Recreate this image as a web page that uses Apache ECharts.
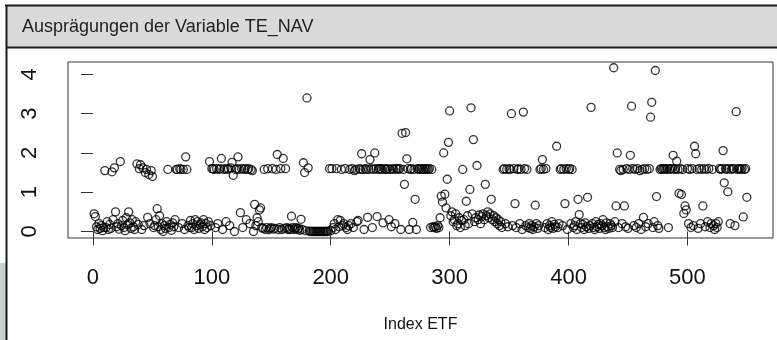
<!DOCTYPE html>
<html>
<head>
<meta charset="utf-8">
<script src="https://cdn.jsdelivr.net/npm/echarts@6/dist/echarts.min.js"></script>
<style>
  html, body { margin: 0; padding: 0; background: #fff; }
  #chart { width: 777px; height: 340px; }
</style>
</head>
<body>
<div id="chart"></div>
<script>
// Ausprägungen der Variable TE_NAV, ein Wert je ETF (Index 1..550)
var titleText = 'Ausprägungen der Variable TE_NAV';
var xName = 'Index ETF';
var xTicks = [0, 100, 200, 300, 400, 500];
var yTicks = [0, 1, 2, 3, 4];

var teNav = [
  0.45, 0.38, 0.12, 0.05, 0.2, 0.08, 0.15, 0.02, 0.1, 1.55,
  0.1, 0.25, 0.05, 0.18, 0.08, 1.52, 0.3, 1.62, 0.5, 0.12,
  0.2, 0.06, 1.78, 0.15, 0.28, 0.1, 0.02, 0.35, 0.18, 0.5,
  0.22, 0.08, 0.3, 0.12, 0.05, 0.25, 1.72, 0.18, 1.6, 1.7,
  0.05, 1.62, 0.15, 1.5, 1.58, 0.36, 1.45, 0.2, 1.55, 1.4,
  0.1, 0.15, 0.3, 0.58, 0.12, 0.4, 0.05, 0.2, 0.0, 0.15,
  0.08, 0.25, 1.58, 0.1, 0.18, 0.03, 0.22, 0.12, 0.3, 1.58,
  1.58, 0.1, 1.6, 1.58, 0.2, 1.58, 0.05, 1.9, 1.58, 0.15,
  0.1, 0.28, 0.1, 0.2, 0.05, 0.3, 0.15, 0.25, 0.08, 0.18,
  0.22, 0.12, 0.3, 0.05, 0.2, 0.1, 0.25, 1.78, 0.15, 1.6,
  1.6, 1.58, 0.1, 1.6, 0.2, 1.58, 1.6, 1.86, 0.05, 1.58,
  1.6, 0.25, 1.58, 1.6, 0.15, 1.62, 1.76, 1.43, 0.0, 1.58,
  1.6, 1.9, 1.58, 0.48, 1.6, 0.1, 1.58, 1.6, 0.3, 1.58,
  1.6, 0.2, 1.58, 1.55, 0.0, 0.69, 0.15, 0.35, 0.25, 0.55,
  0.6, 0.1, 0.08, 1.58, 0.05, 0.1, 1.6, 0.05, 0.08, 0.1,
  1.6, 0.06, 0.08, 1.58, 1.96, 0.05, 0.1, 1.6, 0.05, 1.86,
  0.08, 1.6, 0.1, 0.05, 0.08, 0.05, 0.39, 0.1, 0.05, 0.08,
  0.1, 0.05, 0.08, 0.03, 0.31, 0.05, 1.75, 1.5, 0.02, 3.4,
  1.62, 0.01, 0, 0, 0, 0, 0, 0, 0, 0,
  0, 0, 0, 0, 0, 0, 0, 0.01, 1.6, 0.02,
  1.6, 0.1, 0.2, 0.05, 1.6, 0.3, 0.12, 0.28, 1.58, 0.15,
  0.2, 1.6, 0.1, 0.05, 0.15, 1.58, 0.2, 1.6, 0.1, 1.55,
  1.58, 0.25, 0.28, 1.6, 1.58, 1.98, 1.58, 0.05, 1.6, 1.58,
  0.36, 1.58, 1.83, 1.6, 0.1, 1.58, 2.0, 1.6, 0.38, 1.58,
  1.6, 1.6, 1.58, 0.22, 1.6, 1.58, 1.58, 1.6, 0.3, 1.58,
  0.12, 1.6, 1.58, 0.2, 1.6, 1.6, 1.58, 1.6, 0.05, 2.5,
  1.58, 1.2, 2.52, 1.85, 1.6, 0.05, 1.58, 1.6, 0.23, 1.58,
  0.82, 0.05, 1.6, 1.58, 1.6, 1.58, 1.6, 1.58, 1.6, 1.58,
  1.6, 1.58, 1.6, 0.1, 1.58, 0.12, 0.1, 0.12, 0.08, 0.15,
  0.1, 0.35, 0.9, 0.75, 2.0, 0.95, 0.6, 1.33, 2.27, 3.07,
  0.4, 0.5, 0.25, 0.3, 0.45, 0.15, 0.2, 0.35, 0.1, 0.28,
  1.58, 0.3, 0.15, 0.77, 0.4, 0.2, 1.07, 3.15, 0.45, 2.34,
  0.25, 0.35, 1.68, 0.3, 0.42, 0.2, 0.38, 0.45, 0.3, 1.2,
  0.4, 0.5, 0.35, 0.45, 0.82, 0.3, 0.4, 0.25, 0.35, 0.2,
  0.3, 0.15, 0.25, 0.1, 1.58, 1.6, 0.2, 1.58, 0.12, 1.6,
  1.58, 3.0, 0.15, 1.6, 0.71, 0.1, 1.58, 1.6, 0.2, 1.58,
  0.05, 3.04, 1.6, 0.15, 1.58, 0.1, 0.2, 0.08, 0.15, 0.05,
  0.12, 0.67, 0.2, 0.08, 0.15, 1.58, 1.6, 1.83, 1.58, 0.1,
  1.6, 0.2, 0.05, 0.15, 0.1, 0.25, 0.08, 0.18, 0.12, 2.17,
  0.1, 0.2, 1.58, 1.6, 0.15, 1.58, 0.71, 1.6, 0.05, 1.58,
  1.6, 0.2, 1.58, 0.1, 0.15, 0.25, 0.05, 0.82, 0.43, 0.2,
  0.1, 0.18, 0.05, 0.22, 0.12, 0.87, 0.08, 0.15, 3.16, 0.2,
  0.1, 0.05, 0.25, 0.12, 0.18, 0.08, 0.2, 0.15, 0.3, 0.1,
  0.05, 0.22, 0.12, 0.08, 0.2, 0.15, 0.1, 4.17, 0.25, 0.65,
  2.0, 0.1, 1.58, 1.55, 0.2, 1.58, 0.65, 0.12, 1.6, 0.08,
  1.58, 1.94, 3.19, 1.6, 0.15, 1.58, 0.1, 1.6, 0.2, 1.55,
  0.05, 1.58, 0.36, 1.6, 0.12, 1.58, 0.2, 1.6, 2.91, 3.29,
  0.1, 0.25, 4.1, 0.89, 0.15, 0.08, 1.58, 1.6, 1.58, 1.6,
  1.6, 1.58, 1.6, 0.1, 1.58, 1.6, 1.6, 1.94, 1.58, 1.6,
  1.79, 1.58, 0.97, 1.6, 0.94, 1.58, 0.46, 0.65, 0.55, 1.6,
  0.2, 1.58, 0.1, 1.6, 0.15, 2.17, 1.98, 1.58, 0.08, 1.6,
  0.2, 1.58, 0.65, 1.6, 0.12, 1.58, 0.25, 1.6, 0.1, 0.2,
  1.58, 0.15, 0.05, 0.2, 0.1, 0.25, 1.6, 1.58, 1.6, 2.06,
  1.24, 1.6, 1.58, 1.01, 1.6, 0.2, 1.58, 1.6, 1.6, 0.15,
  3.05, 1.58, 1.6, 1.6, 1.58, 1.6, 0.37, 1.58, 1.6, 0.87
];

var points = [];
for (var i = 0; i < teNav.length; i++) {
  points.push([i + 1, teNav[i]]);
}

var rFont = '"Liberation Sans", Arial, sans-serif';

var chart = echarts.init(document.getElementById('chart'), null, {renderer: 'canvas'});
var option = {
  backgroundColor: '#fff',
  animation: false,
  graphic: [
    // Rahmen und Titelleiste
    {type: 'rect', shape: {x: 0, y: 263, width: 6, height: 80}, style: {fill: '#c7d0d1'}, silent: true},
    {type: 'rect', shape: {x: 7, y: 6, width: 780, height: 41}, style: {fill: '#dadada'}, silent: true},
    {type: 'line', shape: {x1: 5, y1: 5.5, x2: 777, y2: 5.5}, style: {stroke: '#1c1c1c', lineWidth: 2}, silent: true},
    {type: 'line', shape: {x1: 6.5, y1: 5, x2: 6.5, y2: 340}, style: {stroke: '#1c1c1c', lineWidth: 2}, silent: true},
    {type: 'line', shape: {x1: 6, y1: 47.5, x2: 777, y2: 47.5}, style: {stroke: '#1c1c1c', lineWidth: 2}, silent: true},
    {type: 'text', left: 22, top: 18, style: {text: titleText, fill: '#222', font: '18px "Liberation Sans", Arial, sans-serif'}, silent: true}
  ],
  grid: {
    left: 68, right: 4, top: 62, bottom: 102,
    show: true, borderColor: '#333', borderWidth: 1, backgroundColor: 'transparent'
  },
  xAxis: {
    type: 'value',
    min: -21, max: 572,
    name: xName,
    nameLocation: 'middle',
    nameGap: 79,
    nameTextStyle: {color: '#111', fontFamily: rFont, fontSize: 16},
    axisLine: {show: false},
    splitLine: {show: false},
    axisTick: {show: true, length: 14, customValues: xTicks, lineStyle: {color: '#333'}},
    axisLabel: {customValues: xTicks, margin: 29, color: '#111', fontFamily: rFont, fontSize: 22, lineHeight: 22}
  },
  yAxis: {
    type: 'value',
    min: -0.166, max: 4.316,
    axisLine: {show: false},
    splitLine: {show: false},
    axisTick: {show: true, length: 12, customValues: yTicks, lineStyle: {color: '#333'}},
    axisLabel: {customValues: yTicks, rotate: 90, margin: 27, color: '#111', fontFamily: rFont, fontSize: 22, lineHeight: 22}
  },
  series: [{
    type: 'scatter',
    data: points,
    symbol: 'circle',
    symbolSize: 8,
    itemStyle: {color: 'transparent', borderColor: '#000', borderWidth: 1.3},
    emphasis: {disabled: true}
  }]
};
chart.setOption(option);
</script>
</body>
</html>
